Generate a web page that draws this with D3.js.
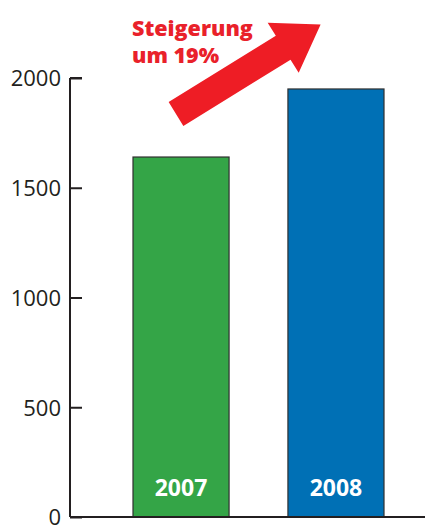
<!DOCTYPE html>
<html>
<head>
<meta charset="utf-8">
<script src="https://cdn.jsdelivr.net/npm/d3@7"></script>
<style>
  html,body{margin:0;padding:0;background:#fff;}
  svg{display:block;}
</style>
</head>
<body>
<svg id="chart" width="427" height="525"></svg>
<script>
// data
const years=["2007","2008"];
const values=[1640,1950];
const barColors=["#34a547","#0070b5"];
const yTicks=[0,500,1000,1500,2000];
const noteLines=["Steigerung","um 19%"];

const svg=d3.select("#chart");

const y=d3.scaleLinear().domain([0,2000]).range([517,78]);
const x=d3.scaleBand().domain(years).range([133,384]).paddingInner(0.38).paddingOuter(0);

// bars
svg.selectAll("rect.bar").data(years).enter().append("rect")
  .attr("class","bar")
  .attr("x",d=>x(d))
  .attr("y",(d,i)=>y(values[i]))
  .attr("width",x.bandwidth())
  .attr("height",(d,i)=>y(0)-y(values[i]))
  .attr("fill",(d,i)=>barColors[i])
  .attr("stroke","#2f2f2f").attr("stroke-width",1.2);

// year labels inside bars
svg.selectAll("text.yr").data(years).enter().append("text")
  .attr("class","yr")
  .attr("x",d=>x(d)+x.bandwidth()/2)
  .attr("y",496)
  .attr("text-anchor","middle")
  .attr("fill","#fff")
  .style("font-family","'Open Sans',sans-serif").style("font-weight","700").style("font-size","23px")
  .text(d=>d);

// y axis
const axis=d3.axisRight(y).tickValues(yTicks).tickSize(12).tickFormat(d3.format("d"));
const ax=svg.append("g").attr("transform","translate(70,0)").call(axis);
ax.select(".domain").attr("d",`M0,${y(2000)}H12M0,${y(2000)}V${y(0)}`).attr("stroke","#231f20").attr("stroke-width",2);
ax.selectAll(".tick line").attr("stroke","#231f20").attr("stroke-width",2);
ax.selectAll(".tick text")
  .attr("x",-9).attr("dy","0.36em").attr("text-anchor","end")
  .attr("fill","#231f20")
  .style("font-family","'Open Sans',sans-serif").style("font-size","22px");

// baseline
svg.append("line").attr("x1",70).attr("x2",425).attr("y1",y(0)).attr("y2",y(0))
  .attr("stroke","#231f20").attr("stroke-width",2);

// note text
svg.append("text")
  .attr("x",132).attr("y",36)
  .attr("fill","#e9212a")
  .style("font-family","'Open Sans',sans-serif").style("font-weight","800").style("font-size","21.5px")
  .selectAll("tspan").data(noteLines).enter().append("tspan")
  .attr("x",132).attr("dy",(d,i)=>i?27:0).text(d=>d);

// arrow
const shaftW=28, headW=59, headL=44, len=170;
const ang=Math.atan2(25-114,320-176)*180/Math.PI;
const arrow=svg.append("g").attr("transform",`translate(176,114) rotate(${ang})`);
arrow.append("path")
  .attr("d",`M0,${-shaftW/2}L${len-headL},${-shaftW/2}L${len-headL},${-headW/2}L${len},0L${len-headL},${headW/2}L${len-headL},${shaftW/2}L0,${shaftW/2}Z`)
  .attr("fill","#ee1d25");
</script>
</body>
</html>
